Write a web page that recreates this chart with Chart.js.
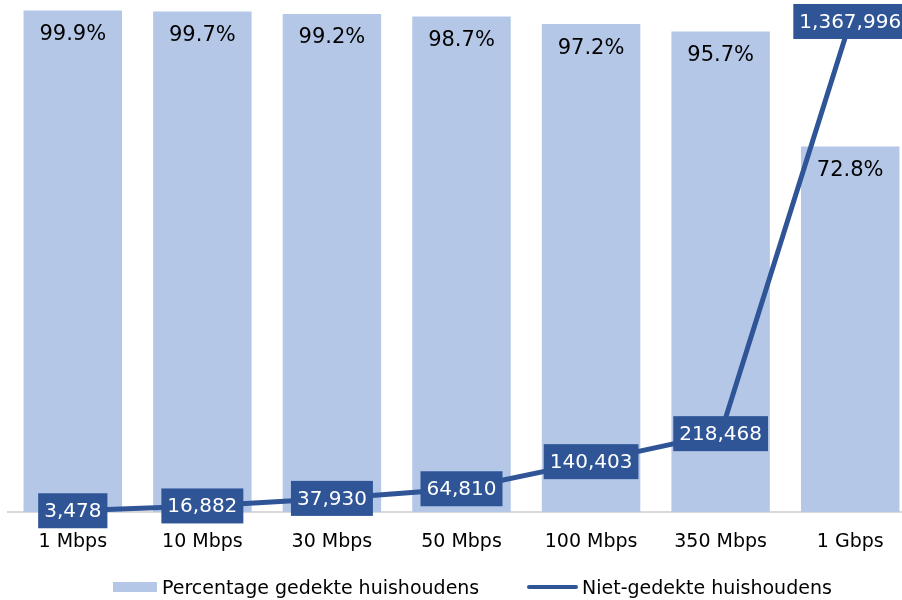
<!DOCTYPE html>
<html>
<head>
<meta charset="utf-8">
<script src="https://cdn.jsdelivr.net/npm/chart.js@4/dist/chart.umd.min.js"></script>
<style>
  html, body { margin: 0; padding: 0; background: #fff; overflow: hidden; }
  #wrap { position: relative; width: 902px; height: 600px; overflow: hidden; }
  #legend {
    position: absolute; left: 0; top: 575px; width: 902px; height: 24px;
    font-family: "DejaVu Sans", Verdana, sans-serif; font-size: 19px; color: #000;
  }
  .item { position: absolute; top: 0; height: 24px; line-height: 24px; white-space: nowrap; }
  .swatch { position: absolute; }
</style>
</head>
<body>
<div id="wrap">
  <canvas id="chart" width="915" height="600"></canvas>
  <div id="legend">
    <span class="swatch" style="left:113px;top:7px;width:44px;height:10px;background:#b4c7e7"></span>
    <span class="item" style="left:162px">Percentage gedekte huishoudens</span>
    <span class="swatch" style="left:527px;top:10px;width:51px;height:4px;background:#2f5597;border-radius:2px"></span>
    <span class="item" style="left:582px">Niet-gedekte huishoudens</span>
  </div>
</div>
<script>
// categorieën en reeksen
const categories = ['1 Mbps', '10 Mbps', '30 Mbps', '50 Mbps', '100 Mbps', '350 Mbps', '1 Gbps'];
const percentages = [99.9, 99.7, 99.2, 98.7, 97.2, 95.7, 72.8];
const uncovered = [3478, 16882, 37930, 64810, 140403, 218468, 1367996];

const barColor = '#b4c7e7';
const lineColor = '#2f5597';
const fontFamily = '"DejaVu Sans", Verdana, sans-serif';

// labels op de balken en de lijn tekenen
const valueLabels = {
  id: 'valueLabels',
  afterDatasetsDraw(chart) {
    const ctx = chart.ctx;
    ctx.save();
    ctx.textAlign = 'center';
    ctx.textBaseline = 'middle';

    ctx.font = '21px ' + fontFamily;
    chart.getDatasetMeta(0).data.forEach((bar, i) => {
      ctx.fillStyle = '#000';
      ctx.fillText(percentages[i].toFixed(1) + '%', bar.x, bar.y + 24);
    });

    ctx.font = '20px ' + fontFamily;
    chart.getDatasetMeta(1).data.forEach((pt, i) => {
      const text = uncovered[i].toLocaleString('en-US');
      const w = ctx.measureText(text).width + 12;
      const h = 35;
      ctx.fillStyle = lineColor;
      ctx.fillRect(pt.x - w / 2, pt.y - h / 2, w, h);
      ctx.fillStyle = '#fff';
      ctx.fillText(text, pt.x, pt.y + 1);
    });
    ctx.restore();
  }
};

new Chart(document.getElementById('chart'), {
  data: {
    labels: categories,
    datasets: [
      {
        type: 'bar',
        label: 'Percentage gedekte huishoudens',
        data: percentages,
        backgroundColor: barColor,
        barPercentage: 1,
        categoryPercentage: 0.76,
        yAxisID: 'y',
        order: 2
      },
      {
        type: 'line',
        label: 'Niet-gedekte huishoudens',
        data: uncovered,
        borderColor: lineColor,
        borderWidth: 5,
        pointRadius: 0,
        tension: 0,
        yAxisID: 'y2',
        order: 1
      }
    ]
  },
  options: {
    responsive: false,
    animation: false,
    layout: { padding: { left: 8, right: 0, top: 10, bottom: 38 } },
    plugins: {
      legend: { display: false },
      tooltip: { enabled: false }
    },
    scales: {
      x: {
        grid: { display: true, color: 'transparent', drawTicks: false },
        border: { display: true, color: '#d9d9d9', width: 2 },
        ticks: { color: '#000', font: { family: fontFamily, size: 19 }, padding: 19 },
        afterFit(scale) { scale.height = 50; }
      },
      y: { display: false, min: 0, max: 100 },
      y2: { display: false, min: 0, max: 1400000 }
    }
  },
  plugins: [valueLabels]
});
</script>
</body>
</html>
